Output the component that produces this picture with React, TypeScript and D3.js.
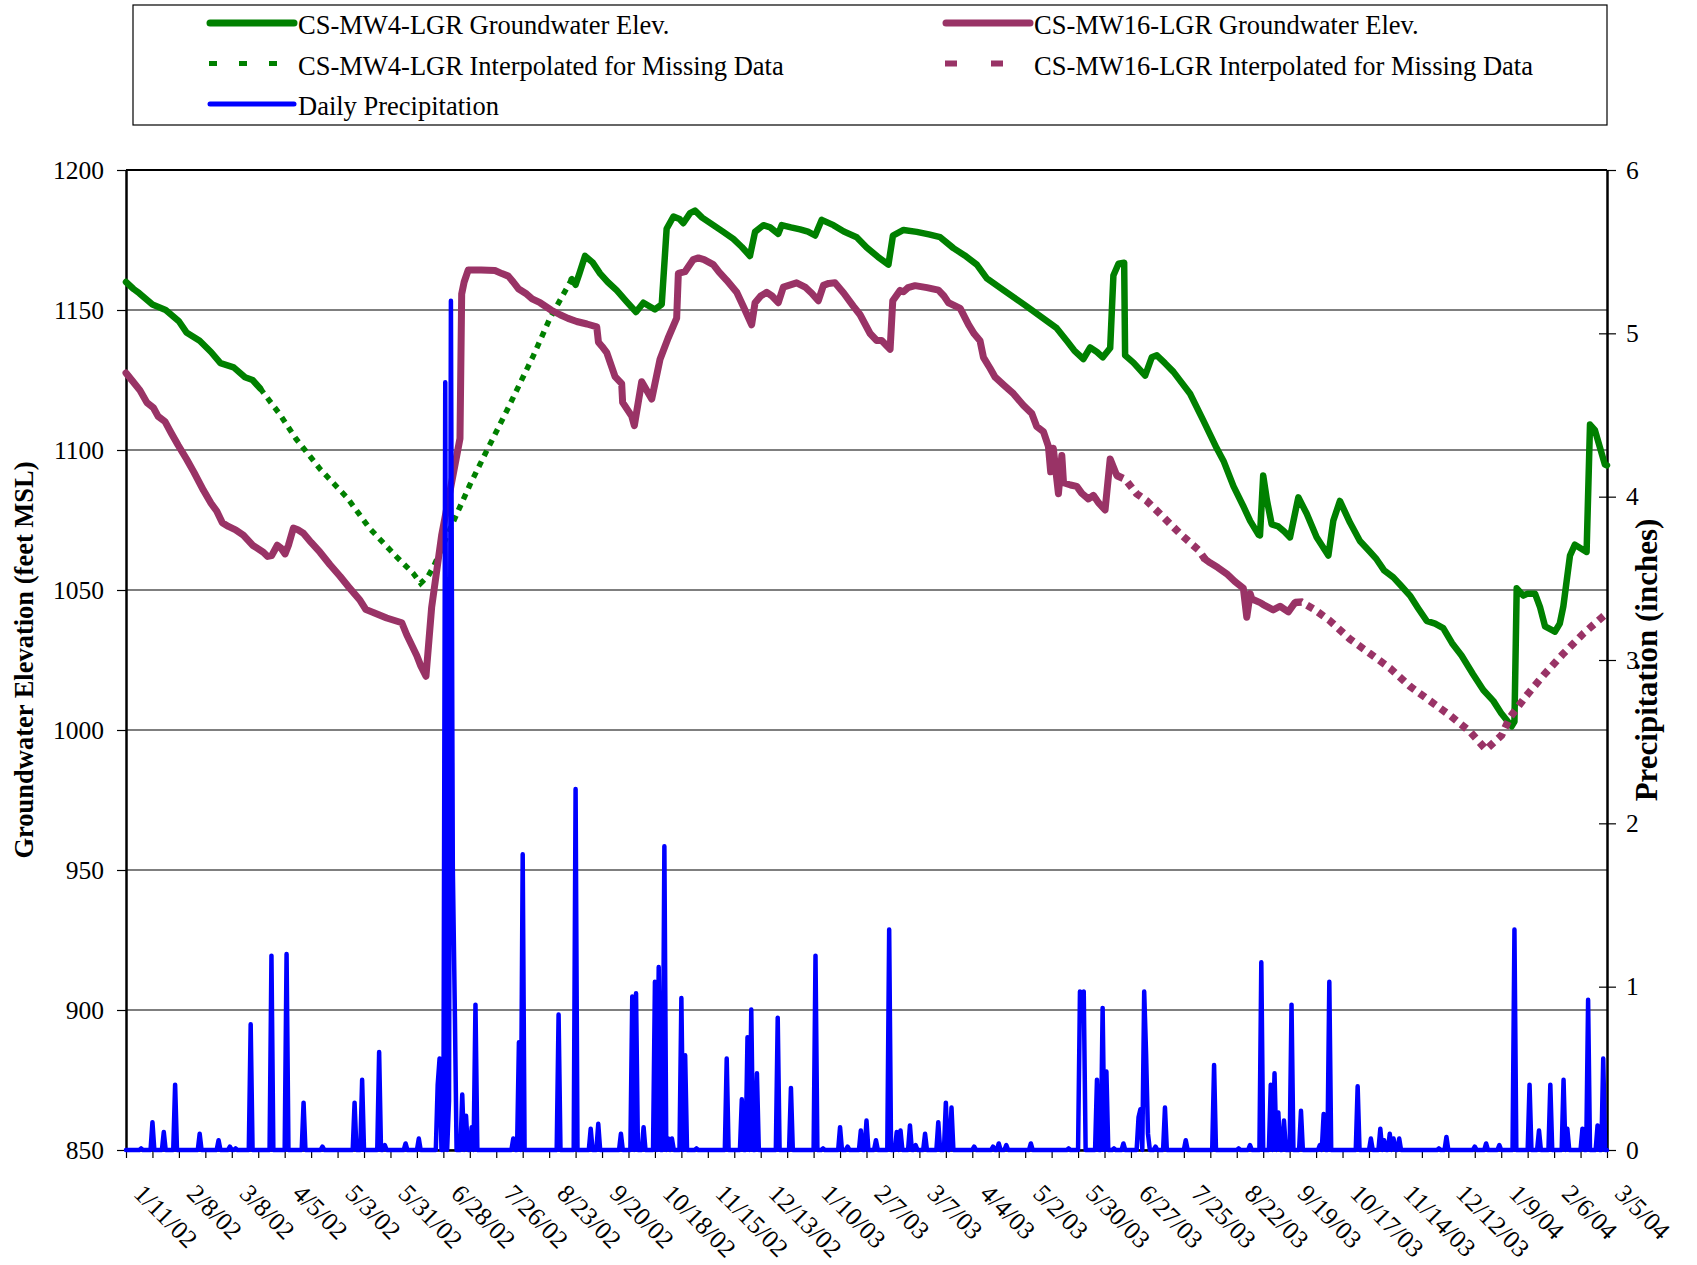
import * as React from "react";
import * as d3 from "d3";

// x values are days counted from 1/11/02 (the first day on the axis)
const START = Date.UTC(2002, 0, 11);
const DAY = 864e5;
const LAST_DAY = 784; // 3/5/04

// CS-MW4-LGR groundwater elevation (feet MSL), measured
const mw4First: [number, number][] = [
  [0, 1160], [4, 1157.5], [7, 1156], [14, 1152], [21, 1150], [28, 1146], [32, 1142],
  [39, 1139], [45, 1135], [50, 1131], [57, 1129.5], [63, 1126], [67, 1125], [71, 1122],
];
const mw4Second: [number, number][] = [
  [236, 1161], [238, 1159], [240, 1163], [243, 1169.3], [247, 1167], [251, 1163], [255, 1160],
  [259.8, 1157], [265, 1153], [270, 1149.3], [273.9, 1152.6], [280, 1150.2], [283.6, 1152],
  [286.2, 1179], [289.8, 1183.4], [293, 1182.5], [295, 1181], [298.6, 1184.6], [301.2, 1185.5],
  [305, 1183], [310.9, 1180.3], [316, 1178], [321.5, 1175.4], [326, 1172.5], [330.3, 1169.3],
  [333, 1177.9], [337.4, 1180.3], [341, 1179.5], [345.3, 1177.2], [347.1, 1180.3], [352, 1179.5],
  [356.8, 1178.8], [361, 1178], [364.8, 1176.6], [368.3, 1182.2], [374.5, 1180.3], [380, 1178],
  [386.8, 1176], [392.1, 1172.3], [398, 1169], [403.6, 1166.2], [406, 1176.6], [411.6, 1178.6],
  [418.6, 1177.9], [425, 1177], [431, 1176], [438, 1172.1], [444, 1169.5], [450.4, 1166.2],
  [455.7, 1161.3], [464.5, 1157.1], [470, 1154.5], [476.8, 1151.3], [487.4, 1146.1],
  [492.7, 1143.5], [498, 1139], [502, 1135.5], [506.8, 1132.5], [510.4, 1136.6], [514, 1135],
  [517.1, 1133.1], [521, 1136.4], [522.7, 1162.3], [525.4, 1166.5], [528.4, 1166.9],
  [528.9, 1133.8], [533.3, 1131.2], [539.5, 1126.6], [543, 1133.1], [545.7, 1133.8], [550, 1131],
  [554.5, 1127.9], [563.3, 1120.1], [570.4, 1110.4], [577.4, 1100.6], [581, 1096.1], [586.3, 1087],
  [591.5, 1079.9], [595.1, 1074.7], [599.5, 1069.8], [600.3, 1069.5], [602, 1090.9], [604, 1082],
  [606.5, 1073.4], [610, 1072.7], [613, 1071], [616.2, 1068.8], [620.6, 1083.1], [625, 1077.3],
  [630.3, 1068.8], [636.5, 1062.3], [639.1, 1074.7], [642.6, 1081.8], [648, 1074], [653.2, 1067.5],
  [658, 1064], [662, 1061], [666, 1057], [670.9, 1054.5], [675, 1051.5], [679.7, 1048],
  [684, 1043.5], [688.5, 1039], [693, 1038], [697.3, 1036.4], [702, 1031], [707, 1026.6],
  [713, 1020], [718.5, 1014.3], [723.8, 1010.4], [728, 1006], [733.5, 1001.3], [735, 1003],
  [736.2, 1050.6], [739.7, 1048], [742, 1048.7], [745.9, 1048.7], [748.5, 1044], [751.2, 1037],
  [756.4, 1035.1], [759, 1038], [760.9, 1044.2], [764.4, 1062.3], [767, 1066.2], [773.2, 1063.6],
  [775, 1109.1], [777.6, 1107.1], [782.9, 1094.8], [784, 1094.5],
];
// CS-MW4-LGR interpolated for missing data
const mw4Interp: [number, number][] = [
  [71, 1122], [81.5, 1112.7], [90, 1104], [103, 1093], [117, 1083], [129, 1072], [143, 1062],
  [152, 1056], [156, 1052.4], [160, 1055], [163, 1058.6], [167, 1064.7], [175, 1077],
  [182, 1087.5], [191, 1099.8], [201.5, 1113.9], [208, 1123], [215.6, 1133.6], [224.5, 1147.1],
  [230.6, 1154.5], [236, 1161],
];

// CS-MW16-LGR groundwater elevation (feet MSL), measured
const mw16First: [number, number][] = [
  [0, 1127.5], [3, 1125], [7.4, 1121.3], [11, 1117], [14.5, 1115.1], [17, 1112], [20.6, 1110.2],
  [24, 1106], [27.7, 1101.6], [32.1, 1096.7], [36, 1092], [41, 1085.6], [45, 1081], [48, 1078.2],
  [51, 1074], [54.2, 1072.7], [58, 1071.5], [62.1, 1069.6], [67, 1066], [72.7, 1063.5],
  [75, 1062], [77.1, 1062.3], [80.1, 1066], [82, 1065], [84.2, 1062.9], [86, 1066], [88.6, 1072.1],
  [91, 1071.5], [93.9, 1070.3], [98, 1067], [102.7, 1063.5], [108, 1059], [113.3, 1054.9],
  [118, 1051], [123.9, 1046.3], [127, 1043], [130.9, 1042], [138, 1040], [146, 1038.3],
  [148.6, 1034], [153.9, 1026.6], [156, 1023], [158.8, 1019.2], [161.8, 1043.8], [167.1, 1069.6],
  [172, 1087], [176.8, 1104.1], [177.7, 1155.7], [179, 1160], [181.2, 1164.3], [188, 1164.3],
  [195.3, 1164.1], [199, 1163], [202.4, 1162.1], [205, 1160], [207.7, 1157.6], [212.1, 1155.7],
  [215, 1154], [219.2, 1152.6], [225, 1150], [229.8, 1148.3], [234, 1147], [238.6, 1145.9],
  [244, 1145], [249.2, 1144], [250.1, 1138.5], [252, 1137], [254.5, 1134.8], [258.9, 1126.2],
  [262.4, 1123.7], [262.9, 1117], [267.7, 1112.1], [269.1, 1108.7], [273, 1124.4],
  [278.3, 1118.2], [282.7, 1132.4], [287, 1140], [291.5, 1147.1], [292.4, 1163.1],
  [295.9, 1163.7], [300.3, 1168], [303, 1168.6], [306, 1168], [310.9, 1166.2], [314, 1163.5],
  [318, 1160.6], [323.3, 1156.3], [327, 1151], [331.2, 1144.7], [333, 1152.6], [336, 1155],
  [339.2, 1156.3], [342, 1155], [345.3, 1152.6], [348, 1158.2], [355, 1159.7], [359.5, 1158.2],
  [363, 1156], [366.5, 1153.3], [369.2, 1158.8], [372, 1159.5], [375.3, 1159.7], [380, 1156],
  [385, 1151.4], [388.6, 1148.3], [393.9, 1141.6], [397.4, 1139.1], [400, 1139.1], [404.5, 1136],
  [405.9, 1153.3], [409.8, 1157], [411.6, 1156.5], [414, 1158], [417.7, 1158.7], [424, 1158],
  [430.1, 1157.1], [433, 1155], [435.4, 1152.6], [441.6, 1150.6], [446, 1144.8], [449, 1141.5],
  [452.1, 1139], [453.9, 1133.1], [457.4, 1129.2], [460.1, 1126], [465, 1123], [469.8, 1120.1],
  [475, 1116], [479.5, 1113], [482.1, 1108.4], [485.7, 1106.5], [488.3, 1101.3], [489.5, 1092.2],
  [490.9, 1100.6], [493.6, 1084.4], [495.4, 1098], [496.3, 1088.3], [500, 1087.5],
  [503.3, 1087], [506, 1084.5], [509.5, 1082.5], [512.1, 1083.8], [515, 1081], [518.3, 1078.6],
  [521, 1096.8], [524.5, 1090.9],
];
const mw16Second: [number, number][] = [
  [571.2, 1061], [573.9, 1059.7], [578, 1058], [582.7, 1055.8], [587, 1053], [591.5, 1050.6],
  [593.3, 1040.3], [595.1, 1048.7], [596, 1046.8], [600.4, 1045.5], [602, 1044.8],
  [607.3, 1042.9], [610.9, 1044.2], [615.3, 1042.2], [618.8, 1045.5],
];
// CS-MW16-LGR interpolated for missing data
const mw16InterpA: [number, number][] = [
  [524.5, 1090.9], [529, 1089.5], [535, 1084.4], [540.4, 1081.8], [549.2, 1076], [558, 1070.1],
  [567.7, 1064.3], [571.2, 1061],
];
const mw16InterpB: [number, number][] = [
  [618.8, 1045.5], [622.3, 1045.7], [629.4, 1042.9], [637.3, 1039], [647.9, 1032.5],
  [658.5, 1027.3], [669.1, 1022.1], [679.7, 1015.6], [690.3, 1010.4], [700.9, 1005.2],
  [711.5, 999.4], [720, 993], [728.2, 998.1], [732.6, 1004.5], [741.4, 1012.3], [750.3, 1019.5],
  [760.9, 1027.3], [771.4, 1034.4], [782.9, 1041.1], [784, 1042],
];

// daily precipitation (inches); days not listed had none
const rainDays: [number, number][] = [
  [8, 0.01], [14, 0.17], [20, 0.11], [26, 0.4], [39, 0.1], [49, 0.06], [55, 0.02], [58, 0.01],
  [66, 0.77], [77, 1.19], [85, 1.2], [94, 0.29], [104, 0.02], [121, 0.29], [125, 0.43],
  [134, 0.6], [137, 0.03], [148, 0.04], [155, 0.07], [165, 0.4], [166, 0.56], [169, 4.7],
  [171, 0.3], [172, 5.2], [173, 1.73], [174, 0.92], [178, 0.34], [180, 0.21], [183, 0.14],
  [185, 0.89], [205, 0.07], [208, 0.66], [210, 1.81], [229, 0.83], [238, 2.21], [246, 0.13],
  [250, 0.16], [262, 0.1], [268, 0.94], [270, 0.96], [274, 0.14], [280, 1.03], [282, 1.12],
  [285, 1.86], [287, 0.07], [289, 0.07], [294, 0.93], [296, 0.58], [302, 0.01], [318, 0.56],
  [326, 0.31], [329, 0.69], [331, 0.86], [334, 0.47], [345, 0.81], [352, 0.38], [365, 1.19],
  [369, 0.01], [378, 0.14], [382, 0.02], [389, 0.12], [392, 0.18], [397, 0.06], [404, 1.35],
  [408, 0.11], [410, 0.12], [415, 0.15], [418, 0.03], [423, 0.1], [430, 0.17], [434, 0.29],
  [437, 0.26], [449, 0.02], [459, 0.02], [462, 0.04], [466, 0.03], [479, 0.04], [499, 0.01],
  [505, 0.97], [506, 0.96], [507, 0.97], [514, 0.43], [517, 0.87], [519, 0.48], [523, 0.01],
  [528, 0.04], [536, 0.2], [537, 0.25], [539, 0.97], [540, 0.59], [541, 0.1], [545, 0.02],
  [550, 0.26], [561, 0.06], [576, 0.52], [589, 0.01], [595, 0.03], [601, 1.15], [606, 0.4],
  [608, 0.47], [610, 0.23], [613, 0.18], [617, 0.89], [622, 0.24], [632, 0.03], [634, 0.22],
  [637, 1.03], [652, 0.39], [659, 0.07], [664, 0.13], [666, 0.06], [669, 0.1], [671, 0.07],
  [674, 0.07], [695, 0.01], [699, 0.08], [714, 0.02], [720, 0.04], [727, 0.03], [735, 1.35],
  [743, 0.4], [748, 0.12], [754, 0.4], [761, 0.43], [763, 0.13], [771, 0.13], [774, 0.92],
  [779, 0.15], [782, 0.56],
];

const elevTicks = [850, 900, 950, 1000, 1050, 1100, 1150, 1200];
const precipTicks = [0, 1, 2, 3, 4, 5, 6];

const GREEN = "#008000";
const PLUM = "#993366";
const BLUE = "#0000ff";
const FONT = "'Liberation Serif', 'Times New Roman', serif";

export default function App() {
  const ref = React.useRef<SVGSVGElement>(null);

  React.useEffect(() => {
    const margin = { top: 170, right: 90, bottom: 115, left: 126 };
    const W = 1697, H = 1265;
    const left = margin.left, right = W - margin.right, top = margin.top, bottom = H - margin.bottom;

    const svg = d3.select(ref.current);
    svg.selectAll("*").remove();

    const dayDate = (d: number) => new Date(START + d * DAY);

    const x = d3.scaleUtc().domain([dayDate(0), dayDate(LAST_DAY)]).range([left, right]);
    const yElev = d3.scaleLinear().domain([850, 1200]).range([bottom, top]);
    const yRain = d3.scaleLinear().domain([0, 6]).range([bottom, top]);

    // gridlines
    svg.append("g")
      .selectAll("line")
      .data(elevTicks)
      .join("line")
      .attr("x1", left).attr("x2", right)
      .attr("y1", d => yElev(d)).attr("y2", d => yElev(d))
      .attr("stroke", "#000")
      .attr("stroke-width", d => d === 1200 ? 2 : 1.2);

    // left axis
    const leftAxis = svg.append("g")
      .attr("transform", `translate(${left},0)`)
      .call(d3.axisLeft(yElev).tickValues(elevTicks).tickFormat(d3.format("d"))
        .tickSize(9).tickSizeOuter(0).tickPadding(13));
    leftAxis.select(".domain").attr("stroke-width", 2.5);
    leftAxis.selectAll(".tick line").attr("stroke-width", 1.2);
    leftAxis.selectAll("text").attr("font-size", 25.5).attr("font-family", FONT);

    // right axis, ticks cross the line
    const rightAxis = svg.append("g")
      .attr("transform", `translate(${right},0)`)
      .call(d3.axisRight(yRain).tickValues(precipTicks).tickFormat(d3.format("d"))
        .tickSize(9).tickSizeOuter(0).tickPadding(10));
    rightAxis.select(".domain").attr("stroke-width", 2.5);
    rightAxis.selectAll(".tick line").attr("x1", (d: any) => d === 6 ? 0 : -8).attr("stroke-width", 1.2);
    rightAxis.selectAll("text").attr("font-size", 25.5).attr("font-family", FONT);

    // bottom axis: a tick every 14 days, a label every 28
    const tickDates = d3.range(0, LAST_DAY + 1, 14).map(dayDate);
    const fmt = d3.utcFormat("%-m/%-d/%y");
    const bottomAxis = svg.append("g")
      .attr("transform", `translate(0,${bottom})`)
      .call(d3.axisBottom(x).tickValues(tickDates).tickSize(8).tickSizeOuter(0)
        .tickFormat((d, i) => (i % 2 === 0 ? fmt(d as Date) : "")));
    bottomAxis.select(".domain").attr("stroke-width", 2.5);
    bottomAxis.selectAll(".tick line").attr("stroke-width", 1.2);
    bottomAxis.selectAll("text")
      .attr("font-size", 25.5)
      .attr("font-family", FONT)
      .attr("text-anchor", "start")
      .attr("x", 0).attr("y", 0).attr("dy", 0)
      .attr("transform", "translate(6,45) rotate(45)");

    // axis titles
    svg.append("text")
      .attr("transform", `translate(33,${(top + bottom) / 2}) rotate(-90)`)
      .attr("text-anchor", "middle")
      .attr("font-family", FONT).attr("font-weight", "bold").attr("font-size", 26.5)
      .text("Groundwater Elevation (feet MSL)");
    svg.append("text")
      .attr("transform", `translate(1657,${(top + bottom) / 2}) rotate(-90)`)
      .attr("text-anchor", "middle")
      .attr("font-family", FONT).attr("font-weight", "bold").attr("font-size", 31)
      .text("Precipitation (inches)");

    // series
    const elevLine = d3.line<[number, number]>()
      .x(p => x(dayDate(p[0])))
      .y(p => yElev(p[1]));

    const plot = svg.append("g").attr("fill", "none");

    [mw4First, mw4Second].forEach(seg => {
      plot.append("path").attr("d", elevLine(seg))
        .attr("stroke", GREEN).attr("stroke-width", 6.5)
        .attr("stroke-linejoin", "round").attr("stroke-linecap", "round");
    });
    plot.append("path").attr("d", elevLine(mw4Interp))
      .attr("stroke", GREEN).attr("stroke-width", 5.5)
      .attr("stroke-dasharray", "6,6");

    [mw16First, mw16Second].forEach(seg => {
      plot.append("path").attr("d", elevLine(seg))
        .attr("stroke", PLUM).attr("stroke-width", 7)
        .attr("stroke-linejoin", "round").attr("stroke-linecap", "round");
    });
    [mw16InterpA, mw16InterpB].forEach(seg => {
      plot.append("path").attr("d", elevLine(seg))
        .attr("stroke", PLUM).attr("stroke-width", 7.5)
        .attr("stroke-dasharray", "7,6");
    });

    const rainByDay = new Map(rainDays);
    const daily: [number, number][] = d3.range(0, LAST_DAY + 1).map(d => [d, rainByDay.get(d) ?? 0]);
    const rainLine = d3.line<[number, number]>()
      .x(p => x(dayDate(p[0])))
      .y(p => yRain(p[1]));
    plot.append("path").attr("d", rainLine(daily))
      .attr("stroke", BLUE).attr("stroke-width", 4.5)
      .attr("stroke-linejoin", "round").attr("stroke-linecap", "round");

    // legend
    const legend = svg.append("g");
    legend.append("rect")
      .attr("x", 133).attr("y", 5).attr("width", 1474).attr("height", 120)
      .attr("fill", "#fff").attr("stroke", "#000").attr("stroke-width", 1.2);

    const items = [
      { x: 207, y: 23, label: "CS-MW4-LGR Groundwater Elev.", color: GREEN, width: 7, dash: null },
      { x: 207, y: 63.5, label: "CS-MW4-LGR Interpolated for Missing Data", color: GREEN, width: 5, dash: "8,22" },
      { x: 207, y: 104, label: "Daily Precipitation", color: BLUE, width: 5, dash: null },
      { x: 943, y: 23, label: "CS-MW16-LGR Groundwater Elev.", color: PLUM, width: 7, dash: null },
      { x: 943, y: 63.5, label: "CS-MW16-LGR Interpolated for Missing Data", color: PLUM, width: 6, dash: "12,34" },
    ];
    items.forEach(it => {
      legend.append("line")
        .attr("x1", it.dash ? it.x + 2 : it.x + 3).attr("x2", it.x + 87)
        .attr("y1", it.y).attr("y2", it.y)
        .attr("stroke", it.color).attr("stroke-width", it.width)
        .attr("stroke-linecap", it.dash ? "butt" : "round")
        .attr("stroke-dasharray", it.dash);
      legend.append("text")
        .attr("x", it.x + 91).attr("y", it.y + 11)
        .attr("font-family", FONT).attr("font-size", 26.5)
        .text(it.label);
    });
  }, []);

  return (
    <svg
      ref={ref}
      width={1697}
      height={1265}
      style={{ position: "absolute", left: 0, top: 0, background: "#fff" }}
    />
  );
}
